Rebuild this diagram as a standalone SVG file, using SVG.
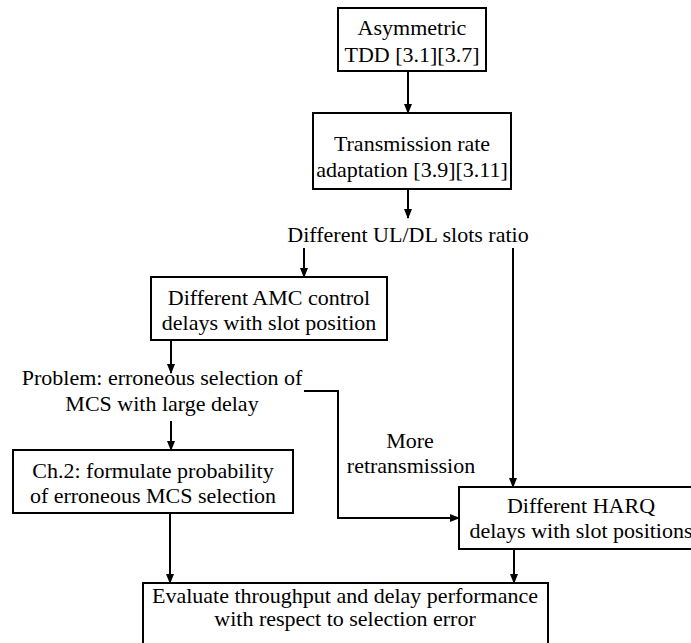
<svg xmlns="http://www.w3.org/2000/svg" width="691" height="643" viewBox="0 0 691 643">
<style>
.box{fill:#fff;stroke:#000;stroke-width:2}
.t{font-family:"Liberation Serif","Times New Roman",serif;font-size:22px;fill:#000;text-anchor:middle}
.c{fill:none;stroke:#000;stroke-width:2}
</style>
<defs>
<marker id="ah" markerWidth="10" markerHeight="10" refX="9" refY="5" orient="auto" markerUnits="userSpaceOnUse">
<path d="M0,1 L10,5 L0,9 z" fill="#000"/>
</marker>
</defs>
<rect width="691" height="643" fill="#fff"/>
<g id="connectors">
<line class="c" x1="408" y1="71" x2="408" y2="113" marker-end="url(#ah)"/>
<line class="c" x1="408" y1="189" x2="408" y2="218" marker-end="url(#ah)"/>
<line class="c" x1="304" y1="248" x2="304" y2="277" marker-end="url(#ah)"/>
<line class="c" x1="513" y1="248" x2="513" y2="487" marker-end="url(#ah)"/>
<line class="c" x1="171" y1="340" x2="171" y2="373" marker-end="url(#ah)"/>
<polyline class="c" points="304,391 338,391 338,518 459,518" marker-end="url(#ah)"/>
<line class="c" x1="171" y1="421" x2="171" y2="450" marker-end="url(#ah)"/>
<line class="c" x1="170" y1="513" x2="170" y2="583" marker-end="url(#ah)"/>
<line class="c" x1="514" y1="549" x2="514" y2="583" marker-end="url(#ah)"/>
<text class="t" x="410" y="448">More</text>
<text class="t" x="411" y="473">retransmission</text>
</g>
<g id="n1">
<rect class="box" x="338" y="8" width="148" height="63"/>
<text class="t" x="412" y="35">Asymmetric</text>
<text class="t" x="412" y="62">TDD [3.1][3.7]</text>
</g>
<g id="n2">
<rect class="box" x="313" y="113" width="198" height="76"/>
<text class="t" x="412" y="151">Transmission rate</text>
<text class="t" x="412" y="177">adaptation [3.9][3.11]</text>
</g>
<g id="n3">
<text class="t" x="408" y="242">Different UL/DL slots ratio</text>
</g>
<g id="n4">
<rect class="box" x="151" y="277" width="236" height="63"/>
<text class="t" x="269" y="305">Different AMC control</text>
<text class="t" x="269" y="330">delays with slot position</text>
</g>
<g id="n5">
<text class="t" x="162" y="385">Problem: erroneous selection of</text>
<text class="t" x="162" y="411">MCS with large delay</text>
</g>
<g id="n6">
<rect class="box" x="13" y="450" width="280" height="63"/>
<text class="t" x="153" y="478">Ch.2: formulate probability</text>
<text class="t" x="153" y="503">of erroneous MCS selection</text>
</g>
<g id="n7">
<rect class="box" x="459" y="487" width="234" height="62"/>
<text class="t" x="581" y="513">Different HARQ</text>
<text class="t" x="581" y="538">delays with slot positions</text>
</g>
<g id="n8">
<rect class="box" x="143" y="583" width="405" height="64"/>
<text class="t" x="345" y="603">Evaluate throughput and delay performance</text>
<text class="t" x="345" y="626">with respect to selection error</text>
</g>
</svg>
